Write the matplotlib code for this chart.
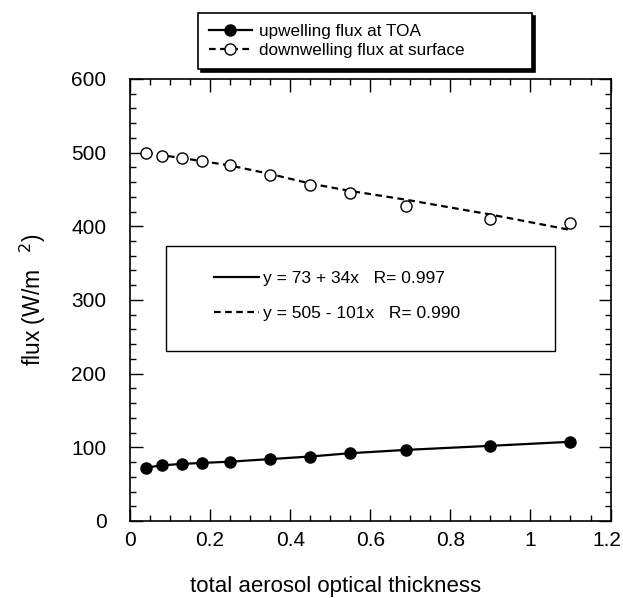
import matplotlib.pyplot as plt
import matplotlib.transforms as mtransforms
from matplotlib.patches import Rectangle
from matplotlib.lines import Line2D
from matplotlib.ticker import MultipleLocator

plt.rcParams['font.family'] = ['Liberation Sans', 'DejaVu Sans']

# aerosol optical thickness
aot = [0.04, 0.08, 0.13, 0.18, 0.25, 0.35, 0.45, 0.55, 0.69, 0.90, 1.10]
# upwelling flux at TOA (W/m2)
up_toa = [72.5, 75.5, 77.5, 78.8, 80.5, 84, 87.5, 92, 96.5, 102, 107.5]
# downwelling flux at surface (W/m2)
down_sfc = [499, 496, 493, 489, 483, 469.5, 456.5, 445, 427, 410, 405]
# dashed curve drawn through the surface points
down_line = [500, 496.5, 492.5, 488.5, 482.5, 471, 458, 448, 436, 416, 395]

fig = plt.figure(figsize=(6.23, 5.98), dpi=100)
ax = fig.add_axes([0.2087, 0.1288, 0.7713, 0.7392])

ax.plot(aot, up_toa, '-', color='black', lw=1.6)
ax.plot(aot, up_toa, 'o', color='black', ms=8)
ax.plot(aot, down_line, '--', color='black', lw=1.6, dashes=(3, 2))
ax.plot(aot, down_sfc, 'o', mfc='white', mec='black', mew=1.0, ms=8)

ax.set_xlim(0, 1.2)
ax.set_ylim(0, 600)
ax.xaxis.set_major_locator(MultipleLocator(0.2))
ax.xaxis.set_minor_locator(MultipleLocator(0.05))
ax.yaxis.set_major_locator(MultipleLocator(100))
ax.yaxis.set_minor_locator(MultipleLocator(20))
ax.set_xticks([0, 0.2, 0.4, 0.6, 0.8, 1.0, 1.2])
ax.set_xticklabels(['0', '0.2', '0.4', '0.6', '0.8', '1', '1.2'])
ax.tick_params(which='both', direction='in', top=True, right=True,
               labelsize=15, width=1, color='black')
ax.tick_params(which='major', length=9)
ax.tick_params(which='minor', length=4.5)
ax.tick_params(axis='x', pad=7)
ax.tick_params(axis='y', pad=17)
for s in ax.spines.values():
    s.set_linewidth(1.2)
# keep the last x label inside the figure
last = ax.get_xticklabels()[-1]
last.set_transform(last.get_transform() +
                   mtransforms.ScaledTranslation(-4 / 100, 0, fig.dpi_scale_trans))

fig.text(0.538, 0.02, 'total aerosol optical thickness', ha='center',
         va='center', fontsize=16)
ax.set_ylabel('flux (W/m $^{\\ \\ 2}$)', fontsize=16.5, labelpad=17)

# legend on top with shadow
h1 = Line2D([], [], color='black', lw=1.6, marker='o', ms=8)
h2 = Line2D([], [], color='black', lw=1.6, ls='--', dashes=(3, 2), marker='o',
            mfc='white', mec='black', ms=8)
leg = ax.legend([h1, h2], ['upwelling flux at TOA', 'downwelling flux at surface'],
                loc='lower left', bbox_to_anchor=(0.1415, 1.0226, 0.695, 0.1),
                mode='expand', borderaxespad=0, fancybox=False,
                edgecolor='black', fontsize=12.3, handlelength=2.5,
                handletextpad=0.4, labelspacing=0.2, borderpad=0.65,
                shadow={'color': 'black', 'alpha': 1}, framealpha=1)
leg.get_frame().set_linewidth(1.2)
ax.add_artist(leg)

# regression box
ax.add_patch(Rectangle((0.0743, 0.385), 0.81, 0.236, transform=ax.transAxes,
                       fill=False, lw=1.0, ec='black'))
f1 = Line2D([], [], color='black', lw=1.6)
f2 = Line2D([], [], color='black', lw=1.6, ls='--', dashes=(3, 2))
ax.legend([f1, f2], ['y = 73 + 34x   R= 0.997', 'y = 505 - 101x   R= 0.990'],
          loc='upper left', bbox_to_anchor=(0.175, 0.566), frameon=False,
          fontsize=12.5, handlelength=2.6, handletextpad=0.2, labelspacing=1.15,
          borderpad=0, borderaxespad=0)

fig.savefig('out.png', dpi=100)
